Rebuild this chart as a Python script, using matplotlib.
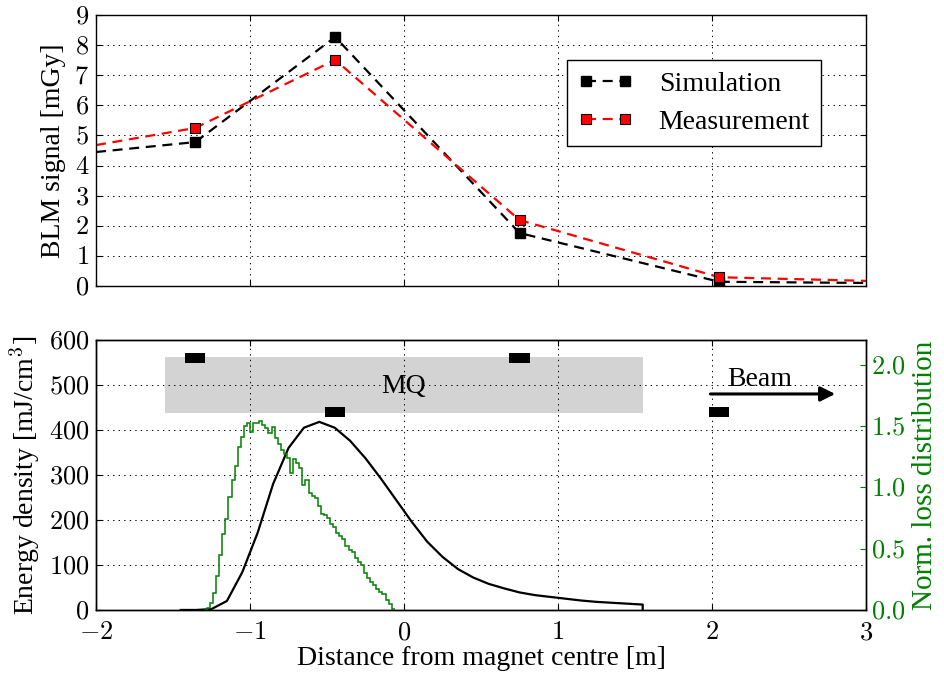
import numpy as np
import matplotlib
matplotlib.use("Agg")
from matplotlib import pyplot as plt
from matplotlib.ticker import FuncFormatter, MultipleLocator


plt.rcParams['font.family'] = ['Liberation Serif', 'DejaVu Serif']
plt.rcParams['mathtext.fontset'] = 'cm'
plt.rcParams['xtick.direction'] = 'in'
plt.rcParams['ytick.direction'] = 'in'
plt.rcParams['xtick.major.size'] = 4
plt.rcParams['ytick.major.size'] = 4
plt.rcParams['axes.linewidth'] = 1.0

# --- top panel: BLM signals
blm_x = [-1.355, -0.447, 0.75, 2.047]
sim_signal = [4.78, 8.27, 1.76, 0.14]
meas_signal = [5.25, 7.51, 2.19, 0.29]
# values where the dashed lines leave the plot at x=-2 and x=3
sim_edges = [4.45, 0.10]
meas_edges = [4.68, 0.17]

# --- bottom panel: energy density (black curve)
ed_x = [-1.45, -1.35, -1.25, -1.15, -1.05, -0.95, -0.85, -0.75, -0.65, -0.55,
        -0.45, -0.35, -0.25, -0.15, -0.05, 0.05, 0.15, 0.25, 0.35, 0.45,
        0.55, 0.65, 0.75, 0.85, 0.95, 1.05, 1.15, 1.25, 1.35, 1.45, 1.55, 1.55]
ed_val = [0, 0, 2, 20, 84, 172, 280, 360, 405, 418,
          405, 376, 337, 292, 244, 196, 152, 118, 91, 72,
          58, 48, 39, 33, 29, 25, 21, 18, 16, 14, 12, 0]

# --- normalised loss distribution (green histogram), bins of 0.02 m from -1.30
loss_start, loss_bin = -1.30, 0.02
loss_val = [0.00, 0.02, 0.06, 0.14, 0.28, 0.45, 0.62, 0.74, 0.92, 1.06,
            1.17, 1.33, 1.41, 1.50, 1.52, 1.45, 1.52, 1.52, 1.54, 1.51,
            1.48, 1.44, 1.49, 1.40, 1.35, 1.30, 1.27, 1.24, 1.12, 1.23,
            1.20, 1.16, 1.02, 1.06, 0.95, 0.93, 0.91, 0.85, 0.78, 0.77,
            0.75, 0.70, 0.68, 0.63, 0.60, 0.58, 0.52, 0.49, 0.47, 0.42,
            0.39, 0.37, 0.30, 0.26, 0.23, 0.20, 0.17, 0.15, 0.13, 0.08,
            0.05, 0.01]

# magnet and BLM marks
mq_x = (-1.55, 1.55)
mq_y = (437, 562)
blm_mark_y = [560, 440, 560, 440]

GRID = dict(color='k', linestyle=(0, (1.4, 4.3)), linewidth=0.7)
DASH = (0, (4.5, 3))
TICK_FS = 19
LABEL_FS = 20

fmt_int = FuncFormatter(lambda v, p: r'$%d$' % round(v))
fmt_1f = FuncFormatter(lambda v, p: r'$%.1f$' % v)

fig = plt.figure(figsize=(9.45, 6.74), dpi=100)
ax1 = fig.add_axes([0.1016, 0.5757, 0.8148, 0.4020])
ax2 = fig.add_axes([0.1016, 0.0950, 0.8148, 0.4006])

# top
sx = [-2.0] + blm_x + [3.0]
ax1.plot(sx, [sim_edges[0]] + sim_signal + [sim_edges[1]], color='k',
         ls=DASH, lw=1.6, marker='s', ms=7, mfc='k', mec='k',
         markevery=slice(1, -1), label='Simulation')
ax1.plot(sx, [meas_edges[0]] + meas_signal + [meas_edges[1]], color='red',
         ls=DASH, lw=1.6, marker='s', ms=7, mfc='red', mec='k', mew=0.8,
         markevery=slice(1, -1), label='Measurement')
ax1.set_xlim(-2, 3)
ax1.set_ylim(0, 9)
ax1.xaxis.set_major_locator(MultipleLocator(1))
ax1.yaxis.set_major_locator(MultipleLocator(1))
ax1.yaxis.set_major_formatter(fmt_int)
ax1.tick_params(labelbottom=False, top=True, right=True, labelsize=TICK_FS)
ax1.tick_params(axis='y', pad=5)
ax1.grid(True, **GRID)
ax1.set_ylabel('BLM signal [mGy]', fontsize=LABEL_FS, labelpad=6)
leg = ax1.legend(loc='upper right', bbox_to_anchor=(0.9416, 0.834),
                 borderaxespad=0, fontsize=LABEL_FS, numpoints=2,
                 fancybox=False, framealpha=1, edgecolor='k',
                 handlelength=2.0, handletextpad=0.9, borderpad=0.4,
                 labelspacing=0.45)
leg.get_frame().set_linewidth(1.0)

# bottom
ax2.fill_between(mq_x, mq_y[0], mq_y[1], color='#d3d3d3', lw=0, zorder=1)
ax2.bar(blm_x, 22, width=0.13, bottom=np.array(blm_mark_y) - 11, color='k',
        zorder=3)
ax2.plot(ed_x, ed_val, color='k', lw=1.6, zorder=4)
ax2.text(0.0, 482, 'MQ', ha='center', va='baseline', fontsize=LABEL_FS)
ax2.annotate('', xy=(2.80, 480), xytext=(1.99, 480),
             arrowprops=dict(arrowstyle='-|>', lw=2.2, color='k',
                             mutation_scale=22, shrinkA=0, shrinkB=0))
ax2.text(2.10, 498, 'Beam', ha='left', va='baseline', fontsize=LABEL_FS)
ax2.set_xlim(-2, 3)
ax2.set_ylim(0, 600)
ax2.xaxis.set_major_locator(MultipleLocator(1))
ax2.yaxis.set_major_locator(MultipleLocator(100))
ax2.xaxis.set_major_formatter(fmt_int)
ax2.yaxis.set_major_formatter(fmt_int)
ax2.tick_params(top=True, right=False, labelsize=TICK_FS)
ax2.tick_params(axis='x', pad=9)
ax2.tick_params(axis='y', pad=5)
ax2.grid(True, **GRID)
ax2.set_ylabel('Energy density [mJ/cm$^3$]', fontsize=LABEL_FS, labelpad=5)
ax2.set_xlabel('Distance from magnet centre [m]', fontsize=LABEL_FS, labelpad=1)

ax3 = ax2.twinx()
edges = [loss_start + i * loss_bin for i in range(len(loss_val) + 1)]
ax3.stairs(loss_val, edges, color='green', lw=1.1, baseline=None)
ax3.set_ylim(0, 2.2)
ax3.yaxis.set_major_locator(MultipleLocator(0.5))
ax3.yaxis.set_major_formatter(fmt_1f)
ax3.tick_params(axis='y', colors='green', labelsize=TICK_FS, direction='in')
ax3.spines['right'].set_color('k')
ax3.set_ylabel('Norm. loss distribution', color='green', fontsize=21,
               labelpad=5)

fig.savefig('out.png', dpi=100)
